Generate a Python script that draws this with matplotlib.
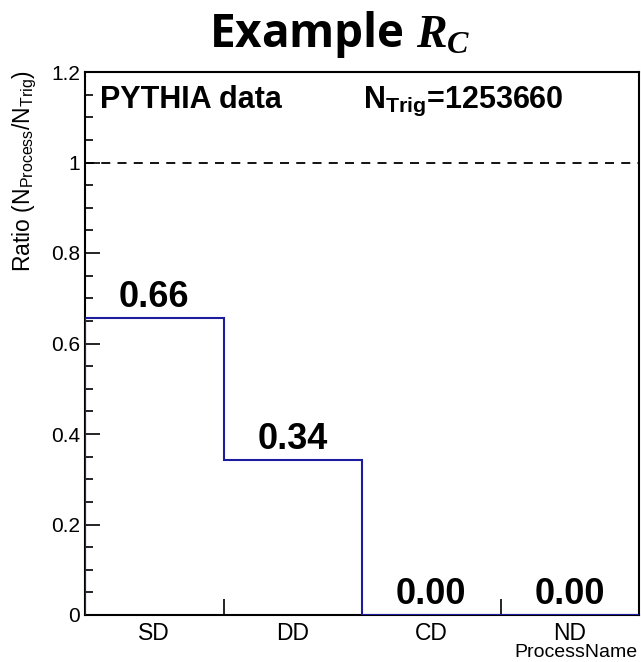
import numpy as np
import matplotlib
matplotlib.use("Agg")
import matplotlib.pyplot as plt
from matplotlib.ticker import MultipleLocator

# data
processes = ["SD", "DD", "CD", "ND"]
ratios = [0.657, 0.343, 0.001, 0.001]
n_trig = 1253660
edges = np.arange(len(processes) + 1)
centers = edges[:-1] + 0.5

plt.rcParams["font.family"] = ["Liberation Sans", "DejaVu Sans"]
plt.rcParams["mathtext.fontset"] = "custom"
plt.rcParams["mathtext.rm"] = "Liberation Sans"
plt.rcParams["mathtext.bf"] = "Liberation Sans:bold"
plt.rcParams["mathtext.it"] = "Liberation Serif:bold:italic"

fig = plt.figure(figsize=(6.41, 6.62), dpi=100)
W, H = 641, 662
ax = fig.add_axes([85 / W, 1 - 615 / H, (639 - 85) / W, (615 - 72) / H])

ax.stairs(ratios, edges, color="#1c1c9e", lw=1.5, zorder=3)
ax.axhline(1.0, color="black", lw=1.3, ls=(0, (5, 4)))

for c, v in zip(centers, ratios):
    ax.annotate(f"{v:.2f}", (c, v), xytext=(0, 2), textcoords="offset points",
                ha="center", va="bottom", fontsize=26, fontweight="bold")

ax.set_xlim(edges[0], edges[-1])
ax.set_ylim(0, 1.2)

# x axis: labels at bin centres, ticks at bin edges
ax.set_xticks(centers, processes)
ax.set_xticks(edges[1:-1], minor=True)
ax.tick_params(axis="x", which="major", length=0, pad=5, labelsize=16.5)
ax.tick_params(axis="x", which="minor", direction="in", length=11.5, width=1.2)

ax.yaxis.set_minor_locator(MultipleLocator(0.05))
ax.set_yticks([0, 0.2, 0.4, 0.6, 0.8, 1.0, 1.2], ["0", "0.2", "0.4", "0.6", "0.8", "1", "1.2"])
ax.tick_params(axis="y", which="major", direction="in", length=11, width=1.2,
               pad=3.5, labelsize=15)
ax.tick_params(axis="y", which="minor", direction="in", length=5.5, width=1.2)

for s in ax.spines.values():
    s.set_linewidth(1.5)

ax.text(0.027, 0.934, "PYTHIA data", transform=ax.transAxes, fontsize=22,
        fontweight="bold", va="baseline", ha="left")
ax.text(0.502, 0.934, r"N$_{\mathbf{Trig}}$=" + str(n_trig), transform=ax.transAxes,
        fontsize=22, fontweight="bold", va="baseline", ha="left")

fig.text(340 / W, 1 - 47 / H, r"Example $R_C$", fontsize=33, fontweight="bold",
         family=["Open Sans", "DejaVu Sans"], ha="center", va="baseline")
fig.text(24 / W, 1 - 70 / H, r"Ratio (N$_{\mathrm{Process}}$/N$_{\mathrm{Trig}}$)",
         rotation=90, fontsize=16.5, ha="center", va="top")
fig.text(637 / W, 1 / H, "ProcessName", fontsize=14, ha="right", va="bottom")

fig.savefig("out.png", dpi=100)
